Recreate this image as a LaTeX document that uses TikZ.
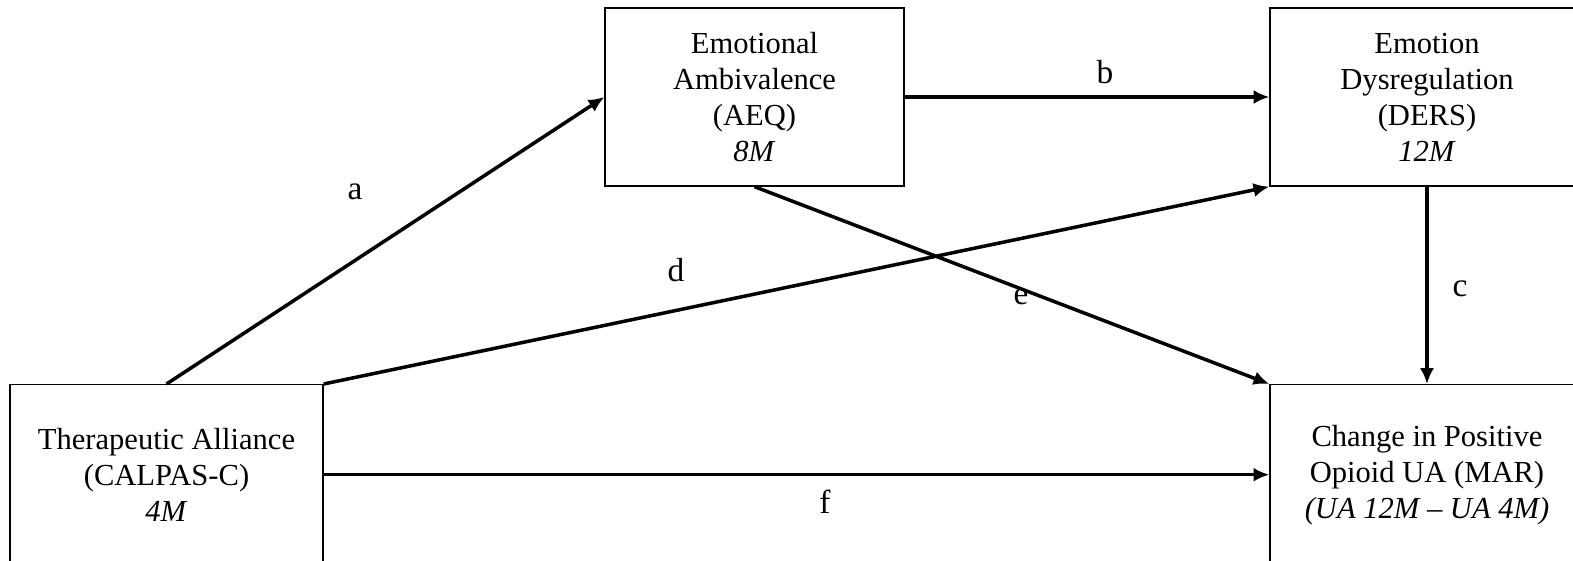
\documentclass[tikz,border=0pt]{standalone}
\usepackage{fontspec}
\setmainfont{Liberation Serif}
\usetikzlibrary{arrows.meta}
\begin{document}
\begin{tikzpicture}[x=0.02cm,y=-0.02cm]
		\tikzstyle{every node}=[font=\fontsize{17.4}{20.5}\selectfont]
		\tikzstyle{var}=[draw,line width=0.8pt,align=center,inner sep=0pt]
		\tikzstyle{link}=[line width=2pt,-{Latex[length=9pt,width=8pt]}]
		\tikzstyle{coef}=[font=\fontsize{19}{22}\selectfont]
		\useasboundingbox (0,0) rectangle (1573,561);
		\clip (0,0) rectangle (1573,561);
		% variables
		\node[var,anchor=north,minimum width=6.26cm,minimum height=3.6cm] (alliance) at (166.5,384) {Therapeutic Alliance\\(CALPAS-C)\\\textit{4M}};
		\node[var,minimum width=5.98cm,minimum height=3.56cm] (aeq) at (754.5,97) {Emotional\\Ambivalence\\(AEQ)\\\textit{8M}};
		\node[var,minimum width=6.28cm,minimum height=3.56cm] (ders) at (1427,97) {Emotion\\Dysregulation\\(DERS)\\\textit{12M}};
		\node[var,anchor=north,minimum width=6.28cm,minimum height=3.6cm] (mar) at (1427,384) {Change in Positive\\Opioid UA (MAR)\\\textit{(UA 12M -- UA 4M)}};
		% paths
		\draw[link] (alliance.north) -- (aeq.west);
		\draw[link] (aeq.east) -- (ders.west);
		\draw[link] (ders.south) -- (mar.north);
		\draw[link] (alliance.north east) -- (ders.south west);
		\draw[link] (aeq.south) -- (mar.north west);
		\draw[link] (alliance.east) -- (mar.west);
		% labels
		\node[coef] (la) at (355,192) {a};
		\node[coef] (lb) at (1105,72) {b};
		\node[coef] (lc) at (1460,289) {c};
		\node[coef] (ld) at (676,270) {d};
		\node[coef] (le) at (1021,297) {e};
		\node[coef] (lf) at (825,502) {f};
	\end{tikzpicture}
\end{document}
